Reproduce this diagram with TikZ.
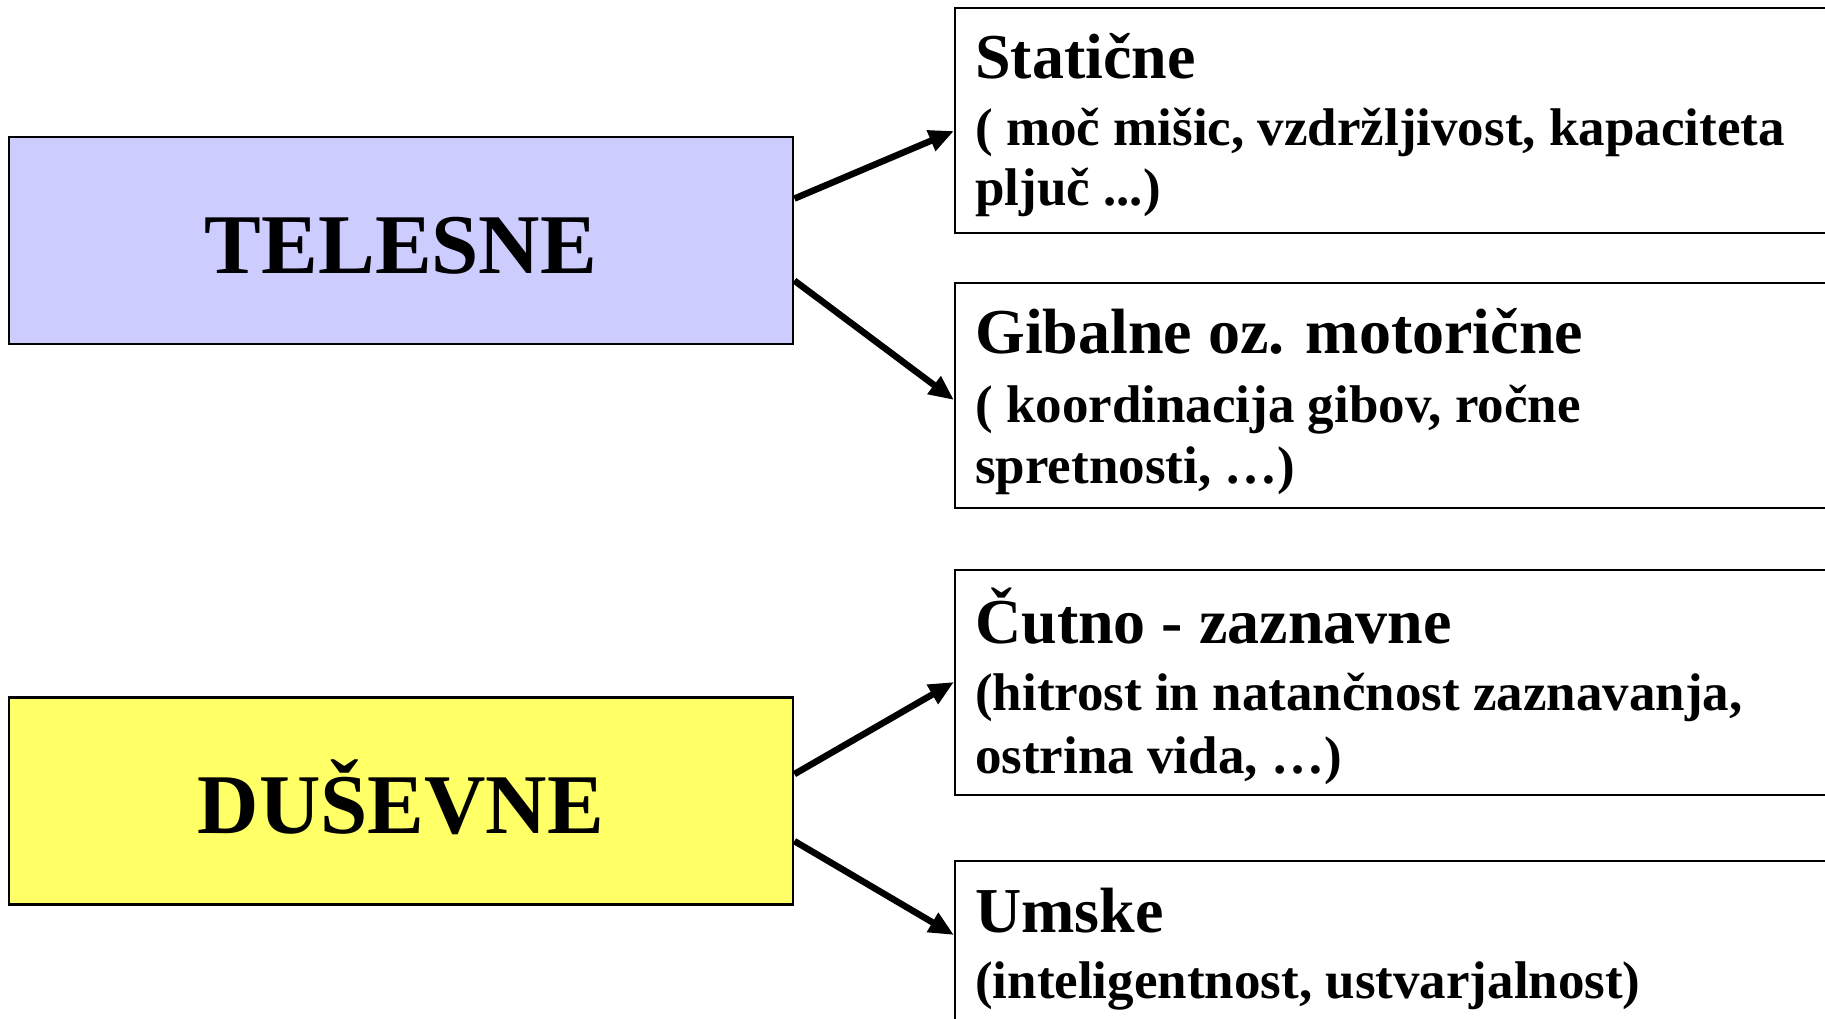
\documentclass[tikz,border=0pt]{standalone}
\usepackage{fontspec}
\setmainfont{Liberation Serif}
\usetikzlibrary{arrows.meta,calc}
\definecolor{lav}{HTML}{CCCCFF}
\definecolor{yel}{HTML}{FFFF66}
\tikzset{
  catbox/.style={draw=black, line width=2.8pt, minimum width=784pt, minimum height=207pt,
    inner sep=0pt, text height=65pt, text depth=0pt,
    font=\fontsize{85}{90}\selectfont\bfseries},
  rbox/.style={draw=black, line width=2.4pt, minimum width=900pt, minimum height=225pt,
    anchor=north west, inner sep=0pt},
  ttl/.style={anchor=base west, inner sep=0pt, font=\fontsize{64}{70}\selectfont\bfseries},
  sub/.style={anchor=base west, inner sep=0pt, font=\fontsize{53}{60}\selectfont\bfseries},
  arr/.style={line width=6.5pt, -{Triangle[length=25pt,width=21pt]}}
}
\begin{document}
\begin{tikzpicture}[x=1pt,y=-1pt]
\useasboundingbox (0,0) rectangle (1825,1019);
\clip (0,0) rectangle (1825,1019);
\fill[white] (0,0) rectangle (1825,1019);

% left category boxes
\node[catbox, fill=lav] (tel) at (401,240.5) {TELESNE};
\node[catbox, fill=yel] (dus) at (401,801) {DUŠEVNE};

% right boxes
\node[rbox] (s1) at (954,7) {};
\node[rbox] (s2) at (954,282) {};
\node[rbox] (s3) at (954,569) {};
\node[rbox, minimum height=260pt] (s4) at (954,860) {};

% texts
\node[ttl] (s1t) at ($(s1.north west)+(21,72)$) {Statične};
\node[sub] (s1a) at ($(s1.north west)+(21,139)$) {( moč mišic, vzdržljivost, kapaciteta};
\node[sub] (s1b) at ($(s1.north west)+(21,199)$) {pljuč ...)};

\node[ttl] (s2t) at ($(s2.north west)+(21,71)$) {Gibalne oz. motorične};
\node[sub] (s2a) at ($(s2.north west)+(21,140)$) {( koordinacija gibov, ročne};
\node[sub] (s2b) at ($(s2.north west)+(21,201)$) {spretnosti, …)};

\node[ttl] (s3t) at ($(s3.north west)+(21,74)$) {Čutno - zaznavne};
\node[sub] (s3a) at ($(s3.north west)+(21,141)$) {(hitrost in natančnost zaznavanja,};
\node[sub] (s3b) at ($(s3.north west)+(21,204)$) {ostrina vida, …)};

\node[ttl] (s4t) at ($(s4.north west)+(21,72)$) {Umske};
\node[sub] (s4a) at ($(s4.north west)+(21,138)$) {(inteligentnost, ustvarjalnost)};

% arrows
\draw[arr] ($(tel.north east)+(0,63)$) -- ($(s1.north west)+(0,124)$);
\draw[arr] ($(tel.north east)+(0,145)$) -- ($(s2.north west)+(0,118)$);
\draw[arr] ($(dus.north east)+(0,78)$) -- ($(s3.north west)+(0,113)$);
\draw[arr] ($(dus.north east)+(0,145)$) -- ($(s4.north west)+(0,75)$);
\end{tikzpicture}
\end{document}
